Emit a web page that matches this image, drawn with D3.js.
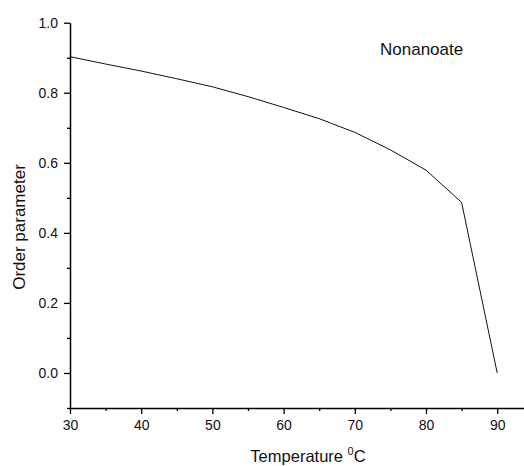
<!DOCTYPE html>
<html>
<head>
<meta charset="utf-8">
<script src="https://cdn.jsdelivr.net/npm/d3@7/dist/d3.min.js"></script>
<style>
  body { margin: 0; background: #fff; }
  text { font-family: "Liberation Sans", Arial, sans-serif; fill: #111; }
</style>
</head>
<body>
<div id="chart"></div>
<script>
// data
var temperatures = [30, 35, 40, 45, 50, 55, 60, 65, 70, 75, 80, 85, 90];
var orderParam = [0.903, 0.882, 0.862, 0.840, 0.817, 0.789, 0.758, 0.726, 0.687, 0.637, 0.579, 0.487, 0.0];
var xTicks = [30, 40, 50, 60, 70, 80, 90];
var xMinor = [35, 45, 55, 65, 75, 85];
var yTicks = [0.0, 0.2, 0.4, 0.6, 0.8, 1.0];
var yMinor = [-0.1, 0.1, 0.3, 0.5, 0.7, 0.9];
var seriesName = "Nonanoate";

var svgWidth = 524;
var svgHeight = 466;

var margin = { top: 22.7, right: 0, bottom: 58, left: 70 };
var width = svgWidth - margin.left - margin.right;
var height = svgHeight - margin.top - margin.bottom;

var svg = d3.select("#chart")
  .append("svg")
  .attr("width", svgWidth)
  .attr("height", svgHeight);

var chartGroup = svg.append("g")
  .attr("transform", `translate(${margin.left}, ${margin.top})`);

var x = d3.scaleLinear()
  .domain([30, 30 + width / 7.12])
  .range([0, width]);

var y = d3.scaleLinear()
  .domain([-0.1, 1.0])
  .range([height, 0]);

// minor ticks first
chartGroup.append("g")
  .attr("class", "minor")
  .attr("transform", `translate(0, ${height})`)
  .call(d3.axisBottom(x).tickValues(xMinor).tickSize(3).tickFormat(""));

chartGroup.append("g")
  .attr("class", "minor")
  .call(d3.axisLeft(y).tickValues(yMinor).tickSize(3).tickFormat(""));

var xAxis = chartGroup.append("g")
  .attr("transform", `translate(0, ${height})`)
  .call(d3.axisBottom(x).tickValues(xTicks).tickSize(6).tickPadding(6).tickSizeOuter(0));

var yAxis = chartGroup.append("g")
  .call(d3.axisLeft(y).tickValues(yTicks).tickSize(6).tickPadding(6)
    .tickSizeOuter(0).tickFormat(d3.format(".1f")));

svg.selectAll(".domain").attr("stroke", "#000").attr("stroke-width", 1.5);
svg.selectAll(".tick line").attr("stroke", "#000").attr("stroke-width", 1.3);
svg.selectAll(".minor .domain").remove();
svg.selectAll(".tick text")
  .style("font-family", "'Liberation Sans', Arial, sans-serif")
  .style("font-size", "14px")
  .attr("fill", "#111");

// the curve
var line = d3.line()
  .x((d, i) => x(temperatures[i]))
  .y(d => y(d));

chartGroup.append("path")
  .datum(orderParam)
  .attr("fill", "none")
  .attr("stroke", "#111")
  .attr("stroke-width", 1)
  .attr("d", line);

// legend text
svg.append("text")
  .attr("x", 380)
  .attr("y", 55)
  .style("font-size", "17px")
  .text(seriesName);

// axis titles
svg.append("text")
  .attr("transform", "rotate(-90)")
  .attr("x", -227)
  .attr("y", 25)
  .attr("text-anchor", "middle")
  .style("font-size", "17px")
  .text("Order parameter");

var xTitle = svg.append("text")
  .attr("x", 308)
  .attr("y", 462)
  .attr("text-anchor", "middle")
  .style("font-size", "16.5px");
xTitle.append("tspan").text("Temperature ");
xTitle.append("tspan").attr("dy", -7).style("font-size", "11px").text("0");
xTitle.append("tspan").attr("dy", 7).text("C");
</script>
</body>
</html>
